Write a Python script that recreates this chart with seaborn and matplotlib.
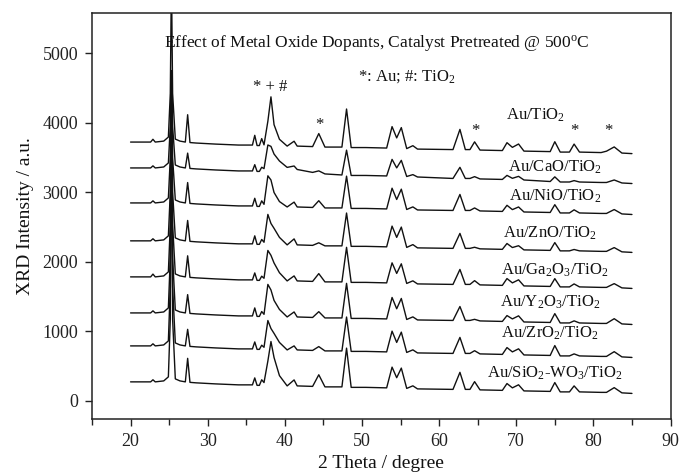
import matplotlib
matplotlib.use("Agg")
import matplotlib.pyplot as plt
import seaborn as sns
import pandas as pd
from matplotlib.ticker import MultipleLocator

# ---------------- data ----------------
two_theta = [20.0, 21.5, 22.6, 22.9, 23.2, 24.3, 24.9, 25.15, 25.3, 25.45, 25.8, 26.4,
             27.1, 27.4, 27.7, 28.5, 31.0, 34.0, 35.8, 36.1, 36.4, 36.7, 37.0, 37.3,
             37.8, 38.2, 38.6, 39.3, 40.3, 41.2, 41.6, 43.6, 44.4, 45.2, 47.4, 48.0,
             48.6, 50.5, 53.2, 53.9, 54.5, 55.1, 55.8, 56.6, 57.2, 61.8, 62.7, 63.4,
             64.0, 64.6, 65.3, 68.2, 68.8, 69.5, 70.3, 71.0, 74.4, 75.0, 75.7, 76.9,
             77.5, 78.2, 81.0, 81.7, 82.7, 83.7, 85.0]

au_tio2 = [3720, 3720, 3720, 3760, 3720, 3734, 3792, 4420, 6120, 4420, 3763, 3734,
           3720, 4113, 3713, 3706, 3691, 3677, 3677, 3817, 3670, 3670, 3770, 3680,
           4020, 4370, 3970, 3760, 3662, 3732, 3662, 3655, 3842, 3648, 3648, 4195,
           3641, 3641, 3634, 3942, 3780, 3928, 3626, 3668, 3619, 3612, 3902, 3612,
           3612, 3723, 3605, 3598, 3711, 3644, 3692, 3590, 3583, 3725, 3576, 3576,
           3691, 3576, 3569, 3589, 3650, 3562, 3554]

au_cao_tio2 = [3348, 3348, 3348, 3378, 3348, 3362, 3420, 3948, 4748, 3948, 3391, 3362,
               3348, 3561, 3341, 3334, 3319, 3305, 3305, 3395, 3298, 3298, 3358, 3338,
               3678, 3658, 3548, 3448, 3356, 3376, 3326, 3284, 3306, 3262, 3247, 3604,
               3240, 3240, 3233, 3471, 3349, 3457, 3225, 3252, 3218, 3197, 3357, 3197,
               3197, 3223, 3190, 3183, 3241, 3199, 3227, 3175, 3153, 3220, 3146, 3146,
               3166, 3146, 3139, 3139, 3175, 3132, 3124]

au_nio_tio2 = [2845, 2845, 2845, 2875, 2845, 2859, 2917, 3495, 4745, 3495, 2888, 2859,
               2845, 3138, 2838, 2831, 2816, 2802, 2802, 2912, 2795, 2795, 2875, 2825,
               3235, 3175, 2995, 2865, 2787, 2857, 2787, 2780, 2877, 2773, 2773, 3230,
               2766, 2766, 2759, 3057, 2895, 3043, 2751, 2788, 2744, 2737, 2967, 2737,
               2737, 2773, 2730, 2723, 2811, 2749, 2787, 2715, 2708, 2820, 2701, 2701,
               2746, 2701, 2694, 2694, 2750, 2687, 2679]

au_zno_tio2 = [2300, 2300, 2300, 2330, 2300, 2314, 2372, 3000, 4700, 3000, 2343, 2314,
               2300, 2593, 2293, 2286, 2271, 2257, 2257, 2372, 2250, 2250, 2320, 2280,
               2680, 2550, 2480, 2350, 2242, 2328, 2242, 2235, 2272, 2228, 2228, 2700,
               2221, 2221, 2214, 2512, 2350, 2498, 2206, 2246, 2199, 2192, 2407, 2192,
               2192, 2208, 2185, 2178, 2262, 2204, 2230, 2170, 2163, 2275, 2156, 2156,
               2176, 2156, 2149, 2149, 2203, 2142, 2134]

au_ga2o3_tio2 = [1782, 1782, 1782, 1822, 1782, 1796, 1854, 2532, 4682, 2532, 1825, 1796,
                 1782, 2085, 1775, 1768, 1753, 1739, 1739, 1839, 1732, 1732, 1792, 1762,
                 2162, 2092, 1982, 1842, 1724, 1796, 1724, 1717, 1829, 1710, 1710, 2207,
                 1703, 1703, 1696, 1984, 1832, 1970, 1688, 1725, 1681, 1674, 1889, 1674,
                 1674, 1728, 1667, 1660, 1758, 1696, 1740, 1652, 1645, 1757, 1638, 1638,
                 1681, 1638, 1631, 1631, 1685, 1624, 1616]

au_y2o3_tio2 = [1264, 1264, 1264, 1294, 1264, 1278, 1336, 2064, 4664, 2064, 1307, 1278,
                1264, 1527, 1257, 1250, 1235, 1221, 1221, 1336, 1214, 1214, 1284, 1244,
                1674, 1594, 1444, 1314, 1206, 1278, 1206, 1199, 1282, 1192, 1192, 1689,
                1185, 1185, 1178, 1486, 1324, 1472, 1170, 1207, 1163, 1156, 1356, 1156,
                1156, 1172, 1149, 1142, 1226, 1178, 1222, 1134, 1127, 1254, 1120, 1120,
                1150, 1120, 1113, 1113, 1181, 1106, 1098]

au_zro2_tio2 = [790, 790, 790, 820, 790, 804, 862, 1640, 4690, 1640, 833, 804,
                790, 1028, 783, 776, 761, 747, 747, 847, 740, 740, 800, 770,
                1155, 1040, 970, 840, 732, 790, 732, 725, 780, 718, 718, 1205,
                711, 711, 704, 1002, 840, 988, 696, 733, 689, 682, 912, 682,
                682, 721, 675, 668, 766, 704, 748, 660, 653, 795, 646, 646,
                675, 646, 639, 639, 707, 632, 624]

au_sio2_wo3_tio2 = [273, 273, 273, 303, 273, 287, 345, 1173, 4673, 1173, 316, 287,
                    273, 611, 266, 259, 244, 230, 230, 330, 223, 223, 303, 263,
                    573, 853, 623, 363, 215, 301, 215, 208, 375, 201, 201, 758,
                    194, 194, 187, 485, 333, 471, 179, 216, 172, 165, 410, 165,
                    165, 276, 158, 151, 249, 187, 231, 143, 136, 263, 129, 129,
                    215, 129, 122, 122, 190, 115, 107]

sample_names = ["Au/TiO$_2$", "Au/CaO/TiO$_2$", "Au/NiO/TiO$_2$", "Au/ZnO/TiO$_2$",
                "Au/Ga$_2$O$_3$/TiO$_2$", "Au/Y$_2$O$_3$/TiO$_2$", "Au/ZrO$_2$/TiO$_2$",
                "Au/SiO$_2$-WO$_3$/TiO$_2$"]
series = [au_tio2, au_cao_tio2, au_nio_tio2, au_zno_tio2, au_ga2o3_tio2,
          au_y2o3_tio2, au_zro2_tio2, au_sio2_wo3_tio2]

# ---------------- styling ----------------
sns.set_style("ticks")
plt.rcParams["font.family"] = ["Liberation Serif", "DejaVu Serif"]
plt.rcParams["mathtext.fontset"] = "custom"
plt.rcParams["mathtext.rm"] = "Liberation Serif"
plt.rcParams["mathtext.it"] = "Liberation Serif:italic"
plt.rcParams["mathtext.default"] = "regular"

frames = []
for name, vals in zip(sample_names, series):
    frames.append(pd.DataFrame({"two_theta": two_theta, "intensity": vals, "sample": name}))
df = pd.concat(frames, ignore_index=True)

fig = plt.figure(figsize=(6.79, 4.75), dpi=100)
ax = fig.add_axes([0.1355, 0.118, 0.852, 0.8546])

sns.lineplot(data=df, x="two_theta", y="intensity", hue="sample", units="sample",
             estimator=None, sort=False, palette=["#111111"] * len(sample_names),
             linewidth=1.0, legend=False, ax=ax)

ax.set_xlim(15, 90)
ax.set_ylim(-260, 5575)
ax.xaxis.set_major_locator(MultipleLocator(10))
ax.xaxis.set_minor_locator(MultipleLocator(5))
ax.yaxis.set_major_locator(MultipleLocator(1000))
ax.tick_params(axis="both", which="major", length=5, width=1, labelsize=13,
               colors="#222222", pad=5)
ax.tick_params(axis="x", which="minor", length=4, width=1, colors="#222222")
ax.tick_params(top=False, right=False, which="both")
for sp in ax.spines.values():
    sp.set_visible(True)
    sp.set_linewidth(1.1)
    sp.set_color("#222222")

ax.set_xlabel("2 Theta / degree", fontsize=14, color="#111111", labelpad=4)
ax.set_ylabel("XRD Intensity / a.u.", fontsize=14, color="#111111", labelpad=6)

# curve labels
label_pos = [(72.5, 4110), (75.0, 3363), (75.0, 2946), (74.4, 2414),
             (75.0, 1882), (74.4, 1423), (74.4, 977), (75.0, 402)]
for name, (lx, ly) in zip(sample_names, label_pos):
    ax.text(lx, ly, name, fontsize=12, ha="center", va="center", color="#111111")

ax.text(51.9, 5144, "Effect of Metal Oxide Dopants, Catalyst Pretreated @ 500$^\\mathrm{o}$C",
        fontsize=12.5, ha="center", va="center", color="#111111")
ax.text(49.5, 4656, "*: Au; #: TiO$_2$", fontsize=12, ha="left", va="center", color="#111111")
ax.text(38.1, 4512, "* + #", fontsize=12, ha="center", va="center", color="#111111")
for sx, sy in [(44.5, 3960), (64.7, 3880), (77.6, 3880), (81.9, 3880)]:
    ax.text(sx, sy, "*", fontsize=12, ha="center", va="center", color="#111111")

fig.savefig("out.png", dpi=100)
